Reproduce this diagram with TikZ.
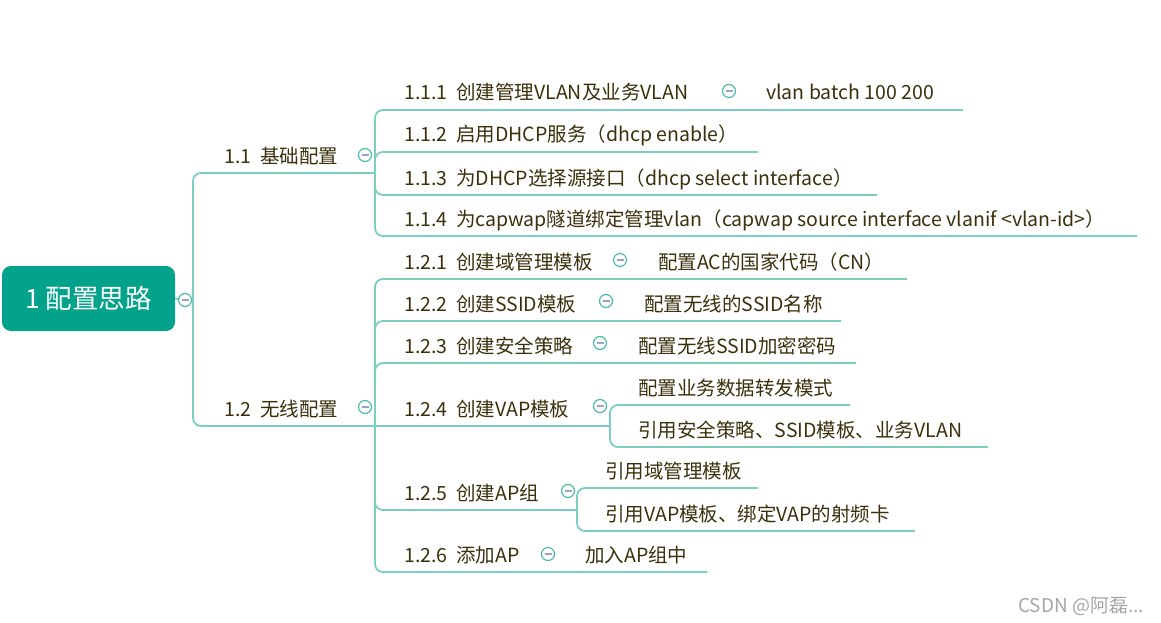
\documentclass[tikz,border=0pt]{standalone}
\usepackage{fontspec}
\setmainfont{Noto Sans CJK SC}
\usepackage{tikz}
\usetikzlibrary{positioning}
\definecolor{RootTeal}{HTML}{02A38A}
\definecolor{LinkTeal}{HTML}{7ACFBF}
\definecolor{KnobTeal}{HTML}{4DBBA6}
\definecolor{KnobBar}{HTML}{A0A0CC}
\definecolor{TopicText}{HTML}{3A300C}

\begin{document}
\begin{tikzpicture}[x=1pt, y=-1pt,
      root/.style={fill=RootTeal, text=white, rounded corners=9pt, minimum width=173pt, minimum height=65pt, font=\fontsize{26.5}{26.5}\selectfont},
      topic/.style={anchor=base west, inner sep=0pt, text=TopicText, font=\fontsize{19.5}{19.5}\selectfont},
      link/.style={LinkTeal, line width=1.8pt, rounded corners=8pt},
      knob/.style={circle, draw=KnobTeal, fill=white, line width=1.2pt, minimum size=13pt, inner sep=0pt,
        path picture={\draw[KnobBar, line width=1.5pt] (path picture bounding box.center) ++(-3.5pt,0pt) -- ++(7pt,0pt);}}
  ]
    \useasboundingbox (0,0) rectangle (1161,623);
    % root and main branches
    \node[root](t1) at (88.5,298.5){1 配置思路};
    \node[knob](k1) at (185,300){};
    \node[topic](t11) at (224,163){1.1\ \ 基础配置};
    \node[knob](k11) at (365,155){};
    \node[topic](t12) at (224,416){1.2\ \ 无线配置};
    \node[knob](k12) at (365,407){};
    % 1.1
    \node[topic](t111) at (404,100){1.1.1\ \ 创建管理VLAN及业务VLAN};
    \node[knob](k111) at (729,91){};
    \node[topic](c111) at (766,100){vlan batch 100 200};
    \node[topic](t112) at (404,142){1.1.2\ \ 启用DHCP服务（dhcp enable）};
    \node[topic](t113) at (404,185){1.1.3\ \ 为DHCP选择源接口（dhcp select interface）};
    \node[topic](t114) at (404,226){1.1.4\ \ 为capwap隧道绑定管理vlan（capwap source interface vlanif <vlan-id>）};
    % 1.2
    \node[topic](t121) at (404,269){1.2.1\ \ 创建域管理模板};
    \node[knob](k121) at (620,260){};
    \node[topic](c121) at (658,269){配置AC的国家代码（CN）};
    \node[topic](t122) at (404,311){1.2.2\ \ 创建SSID模板};
    \node[knob](k122) at (606,301){};
    \node[topic](c122) at (644,311){配置无线的SSID名称};
    \node[topic](t123) at (404,353){1.2.3\ \ 创建安全策略};
    \node[knob](k123) at (600,343){};
    \node[topic](c123) at (638,353){配置无线SSID加密密码};
    \node[topic](t124) at (404,416){1.2.4\ \ 创建VAP模板};
    \node[knob](k124) at (600,406){};
    \node[topic](c124a) at (638,395){配置业务数据转发模式};
    \node[topic](c124b) at (638,437){引用安全策略、SSID模板、业务VLAN};
    \node[topic](t125) at (404,500){1.2.5\ \ 创建AP组};
    \node[knob](k125) at (568,491){};
    \node[topic](c125a) at (605,478){引用域管理模板};
    \node[topic](c125b) at (605,521){引用VAP模板、绑定VAP的射频卡};
    \node[topic](t126) at (404,562){1.2.6\ \ 添加AP};
    \node[knob](k126) at (548,554){};
    \node[topic](c126) at (585,562){加入AP组中};
    % junctions and line ends
    \coordinate(j1) at (193,300);
    \coordinate(j11) at (375,173);
    \coordinate(j12) at (375,426);
    \coordinate(j124) at (610,426);
    \coordinate(j125) at (577,510);
    \coordinate(e111) at (963,110);
    \coordinate(e112) at (758,152);
    \coordinate(e113) at (877,195);
    \coordinate(e114) at (1137,236);
    \coordinate(e121) at (907,279);
    \coordinate(e122) at (841,321);
    \coordinate(e123) at (856,363);
    \coordinate(e124a) at (850,405);
    \coordinate(e124b) at (988,447);
    \coordinate(e125a) at (758,488);
    \coordinate(e125b) at (915,531);
    \coordinate(e126) at (707,572);
    \draw[link](t1.east)--(k1); \draw[link](k1)--(j1);
    \draw[link](j1)|-(j11); \draw[link](j1)|-(j12);
    \foreach \e in {e111,e112,e113,e114} \draw[link](j11)|-(\e);
    \foreach \e in {e121,e122,e123,e126} \draw[link](j12)|-(\e);
    \draw[link](j12)--(j124); \draw[link](j12)|-(j125);
    \foreach \e in {e124a,e124b} \draw[link](j124)|-(\e);
    \foreach \e in {e125a,e125b} \draw[link](j125)|-(\e);
    \node[anchor=base west, inner sep=0pt, text=black!35, font=\fontsize{19}{19}\selectfont](mark) at (1018,612){CSDN @阿磊...};
  \end{tikzpicture}
\end{document}
